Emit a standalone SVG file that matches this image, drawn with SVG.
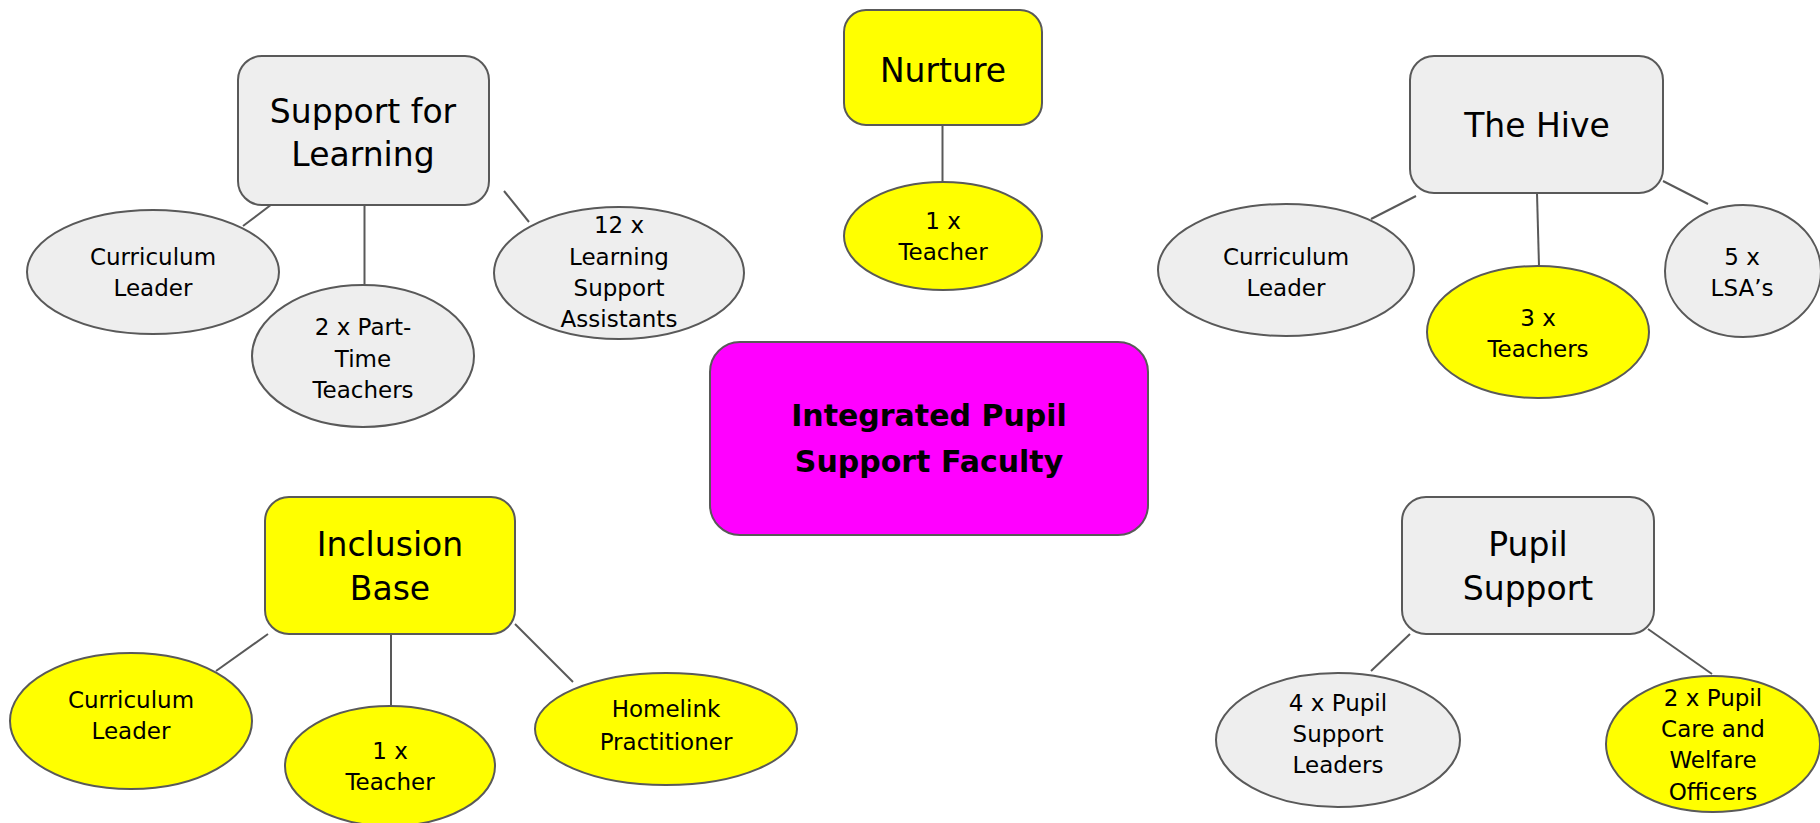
<svg xmlns="http://www.w3.org/2000/svg" width="1820" height="823" viewBox="0 0 1820 823">
<style>
.g{fill:#eeeeee;stroke:#595959;stroke-width:2}
.y{fill:#ffff00;stroke:#595959;stroke-width:2}
.m{fill:#ff00ff;stroke:#595959;stroke-width:2}
.c line{stroke:#595959;stroke-width:2}
text{font-family:"DejaVu Sans","Liberation Sans",sans-serif;fill:#000;text-anchor:middle}
.t{font-size:33px}
.s{font-size:23px}
.b{font-size:30px;font-weight:bold}
</style>
<rect width="1820" height="823" fill="#ffffff"/>
<g class="c" id="connectors">
<line x1="280" y1="198" x2="243" y2="226"/>
<line x1="364.5" y1="205" x2="364.5" y2="287"/>
<line x1="504" y1="191" x2="529" y2="222"/>
<line x1="942.5" y1="125" x2="942.5" y2="182"/>
<line x1="1416" y1="196" x2="1371" y2="219"/>
<line x1="1537" y1="193" x2="1539" y2="266"/>
<line x1="1663" y1="181" x2="1708" y2="204"/>
<line x1="268" y1="634" x2="216" y2="671"/>
<line x1="391" y1="634" x2="391" y2="708"/>
<line x1="515" y1="624" x2="573" y2="682"/>
<line x1="1410" y1="634" x2="1371" y2="671"/>
<line x1="1648" y1="629" x2="1712" y2="674"/>
</g>
<g id="center">
<rect class="m" x="710" y="342" width="438" height="193" rx="30"/>
<text class="b" x="929" y="426">Integrated Pupil</text>
<text class="b" x="929" y="472">Support Faculty</text>
</g>
<g id="sfl">
<rect class="g" x="238" y="56" width="251" height="149" rx="24"/>
<text class="t" x="363" y="123">Support for</text>
<text class="t" x="363" y="166">Learning</text>
</g>
<g id="sfl-cl">
<ellipse class="g" cx="153" cy="272" rx="126" ry="62"/>
<text class="s" x="153" y="265">Curriculum</text>
<text class="s" x="153" y="296">Leader</text>
</g>
<g id="sfl-pt">
<ellipse class="g" cx="363" cy="356" rx="111" ry="71"/>
<text class="s" x="363" y="335">2 x Part-</text>
<text class="s" x="363" y="367">Time</text>
<text class="s" x="363" y="398">Teachers</text>
</g>
<g id="sfl-lsa">
<ellipse class="g" cx="619" cy="273" rx="125" ry="66"/>
<text class="s" x="619" y="233">12 x</text>
<text class="s" x="619" y="265">Learning</text>
<text class="s" x="619" y="296">Support</text>
<text class="s" x="619" y="327">Assistants</text>
</g>
<g id="nurture">
<rect class="y" x="844" y="10" width="198" height="115" rx="22"/>
<text class="t" x="943" y="82">Nurture</text>
</g>
<g id="nurture-t">
<ellipse class="y" cx="943" cy="236" rx="99" ry="54"/>
<text class="s" x="943" y="229">1 x</text>
<text class="s" x="943" y="260">Teacher</text>
</g>
<g id="hive">
<rect class="g" x="1410" y="56" width="253" height="137" rx="24"/>
<text class="t" x="1537" y="137">The Hive</text>
</g>
<g id="hive-cl">
<ellipse class="g" cx="1286" cy="270" rx="128" ry="66"/>
<text class="s" x="1286" y="265">Curriculum</text>
<text class="s" x="1286" y="296">Leader</text>
</g>
<g id="hive-t">
<ellipse class="y" cx="1538" cy="332" rx="111" ry="66"/>
<text class="s" x="1538" y="326">3 x</text>
<text class="s" x="1538" y="357">Teachers</text>
</g>
<g id="hive-lsa">
<ellipse class="g" cx="1743" cy="271" rx="78" ry="66"/>
<text class="s" x="1742" y="265">5 x</text>
<text class="s" x="1742" y="296">LSA’s</text>
</g>
<g id="inclusion">
<rect class="y" x="265" y="497" width="250" height="137" rx="24"/>
<text class="t" x="390" y="556">Inclusion</text>
<text class="t" x="390" y="600">Base</text>
</g>
<g id="inc-cl">
<ellipse class="y" cx="131" cy="721" rx="121" ry="68"/>
<text class="s" x="131" y="708">Curriculum</text>
<text class="s" x="131" y="739">Leader</text>
</g>
<g id="inc-t">
<ellipse class="y" cx="390" cy="766" rx="105" ry="60"/>
<text class="s" x="390" y="759">1 x</text>
<text class="s" x="390" y="790">Teacher</text>
</g>
<g id="inc-hp">
<ellipse class="y" cx="666" cy="729" rx="131" ry="56"/>
<text class="s" x="666" y="717">Homelink</text>
<text class="s" x="666" y="750">Practitioner</text>
</g>
<g id="pupil">
<rect class="g" x="1402" y="497" width="252" height="137" rx="24"/>
<text class="t" x="1528" y="556">Pupil</text>
<text class="t" x="1528" y="600">Support</text>
</g>
<g id="pupil-psl">
<ellipse class="g" cx="1338" cy="740" rx="122" ry="67"/>
<text class="s" x="1338" y="711">4 x Pupil</text>
<text class="s" x="1338" y="742">Support</text>
<text class="s" x="1338" y="773">Leaders</text>
</g>
<g id="pupil-cw">
<ellipse class="y" cx="1713" cy="744" rx="107" ry="68"/>
<text class="s" x="1713" y="706">2 x Pupil</text>
<text class="s" x="1713" y="737">Care and</text>
<text class="s" x="1713" y="768">Welfare</text>
<text class="s" x="1713" y="800">Officers</text>
</g>
</svg>
